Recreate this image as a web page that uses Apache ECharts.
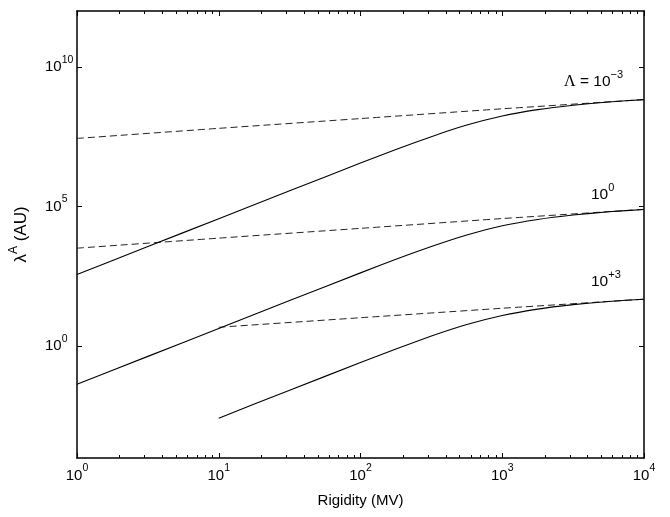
<!DOCTYPE html>
<html><head><meta charset="utf-8">
<script src="https://cdn.jsdelivr.net/npm/echarts@6/dist/echarts.min.js"></script>
<style>html,body{margin:0;padding:0;background:#fff}#c{width:670px;height:517px}</style>
</head><body><div id="c"></div>
<script>
// Rigidity (MV) sample points
const rigidity = [1, 3.162, 10, 31.62, 100, 177.8, 316.2, 562.3, 1000, 1778, 3162, 5623, 10000];
const rigidity3 = [10, 31.62, 100, 177.8, 316.2, 562.3, 1000, 1778, 3162, 5623, 10000];
const dashedX = [1, 10, 100, 1000, 10000];
const dashedX3 = [10, 100, 1000, 10000];
// lambda^A (AU), solid curves
const solidLm3 = [369, 3690, 3.69e4, 3.68e5, 3.60e6, 1.10e7, 3.18e7, 8.25e7, 1.75e8, 2.95e8, 4.25e8, 5.55e8, 6.70e8];
const solidL0 = [0.0434, 0.434, 4.34, 43.3, 423, 1295, 3730, 9650, 2.05e4, 3.46e4, 4.98e4, 6.50e4, 7.87e4];
const solidLp3 = [0.00267, 0.0267, 0.261, 0.80, 2.31, 5.97, 12.6, 21.4, 30.8, 40.2, 48.4];
// dashed curves
const dashedLm3 = [2.75e7, 6.31e7, 1.41e8, 3.16e8, 6.76e8];
const dashedL0 = [3.24e3, 7.41e3, 1.66e4, 3.72e4, 7.94e4];
const dashedLp3 = [4.79, 10.5, 22.9, 48.4];
// ticks
const xMajorTicks = [1, 10, 100, 1000, 10000];
const xMinorTicks = [2,3,4,5,6,7,8,9,20,30,40,50,60,70,80,90,200,300,400,500,600,700,800,900,2000,3000,4000,5000,6000,7000,8000,9000];
const yMajorTicks = [1, 1e5, 1e10];
const curveLabels = [['Λ = 10', '−3'], ['10', '0'], ['10', '+3']];

const zip = (xs, ys) => xs.map((x, i) => [x, ys[i]]);
const FONT = '"Liberation Sans", Arial, Helvetica, sans-serif';
const rich = {
  b: {fontSize: 15, fontFamily: FONT, color: '#000'},
  s: {fontSize: 10.5, fontFamily: FONT, color: '#000', padding: [0, 0, 14, 0]},
  g: {fontSize: 15, fontFamily: '"Liberation Serif", serif', color: '#000'}
};
const richC = {
  b: {fontSize: 15.5, fontFamily: FONT, color: '#000'},
  s: {fontSize: 11, fontFamily: FONT, color: '#000', padding: [0, 0, 15, 0]},
  g: {fontSize: 16, fontFamily: '"Liberation Serif", serif', color: '#000'}
};
const expFmt = v => '{b|10}{s|' + Math.round(Math.log10(v)) + '}';
const lineW = 1.5;

const chart = echarts.init(document.getElementById('c'), null, {renderer: 'canvas'});
const solidStyle = {color: '#000', width: 1.1};
const dashStyle = {color: '#222', width: 1, type: [7, 4]};
const mk = (data, style) => ({type: 'line', data, symbol: 'none', smooth: 0.15, lineStyle: style, xAxisIndex: 0, yAxisIndex: 0, silent: true});

chart.setOption({
  animation: false,
  backgroundColor: '#fff',
  grid: {left: 77, right: 26, top: 11, bottom: 59, containLabel: false},
  xAxis: [
    {type: 'log', logBase: 10, min: 1, max: 1e4, position: 'bottom',
     axisLine: {lineStyle: {color: '#000', width: lineW}},
     axisTick: {inside: true, length: 5, customValues: xMajorTicks, lineStyle: {color: '#000'}},
     axisLabel: {customValues: xMajorTicks, formatter: expFmt, rich, margin: 5},
     splitLine: {show: false},
     name: 'Rigidity (MV)', nameLocation: 'middle', nameGap: 35,
     nameTextStyle: {fontSize: 15, fontFamily: FONT, color: '#000'}},
    {type: 'log', logBase: 10, min: 1, max: 1e4, position: 'bottom',
     axisLine: {show: false},
     axisTick: {inside: true, length: 3, customValues: xMinorTicks, lineStyle: {color: '#000'}},
     axisLabel: {show: false}, splitLine: {show: false}},
    {type: 'log', logBase: 10, min: 1, max: 1e4, position: 'top',
     axisLine: {lineStyle: {color: '#000', width: lineW}},
     axisTick: {inside: true, length: 5, customValues: xMajorTicks, lineStyle: {color: '#000'}},
     axisLabel: {show: false}, splitLine: {show: false}},
    {type: 'log', logBase: 10, min: 1, max: 1e4, position: 'top',
     axisLine: {show: false},
     axisTick: {inside: true, length: 3, customValues: xMinorTicks, lineStyle: {color: '#000'}},
     axisLabel: {show: false}, splitLine: {show: false}}
  ],
  yAxis: [
    {type: 'log', logBase: 10, min: 1e-4, max: 1e12, position: 'left',
     axisLine: {lineStyle: {color: '#000', width: lineW}},
     axisTick: {inside: true, length: 5, customValues: yMajorTicks, lineStyle: {color: '#000'}},
     axisLabel: {customValues: yMajorTicks, formatter: expFmt, rich, margin: 32, align: 'left'},
     splitLine: {show: false},
     name: '{b|λ}{s|A}{b| (AU)}', nameLocation: 'middle', nameGap: 43, nameRotate: 90,
     nameTextStyle: {rich: {b: {fontSize: 17, fontFamily: FONT, color: '#000'}, s: {fontSize: 12, fontFamily: FONT, color: '#000', padding: [0, 0, 14, 0]}}}},
    {type: 'log', logBase: 10, min: 1e-4, max: 1e12, position: 'right',
     axisLine: {lineStyle: {color: '#000', width: lineW}},
     axisTick: {inside: true, length: 5, customValues: yMajorTicks, lineStyle: {color: '#000'}},
     axisLabel: {show: false}, splitLine: {show: false}}
  ],
  series: [
    mk(zip(dashedX, dashedLm3), dashStyle),
    mk(zip(dashedX, dashedL0), dashStyle),
    mk(zip(dashedX3, dashedLp3), dashStyle),
    mk(zip(rigidity, solidLm3), solidStyle),
    mk(zip(rigidity, solidL0), solidStyle),
    mk(zip(rigidity3, solidLp3), solidStyle)
  ],
  graphic: [
    {type: 'text', x: 564, y: 82, style: {text: '{g|Λ}{b| = 10}{s|' + curveLabels[0][1] + '}', rich: richC, align: 'left', verticalAlign: 'middle'}},
    {type: 'text', x: 591, y: 195, style: {text: '{b|' + curveLabels[1][0] + '}{s|' + curveLabels[1][1] + '}', rich: richC, align: 'left', verticalAlign: 'middle'}},
    {type: 'text', x: 591, y: 282, style: {text: '{b|' + curveLabels[2][0] + '}{s|' + curveLabels[2][1] + '}', rich: richC, align: 'left', verticalAlign: 'middle'}}
  ]
});
</script></body></html>
